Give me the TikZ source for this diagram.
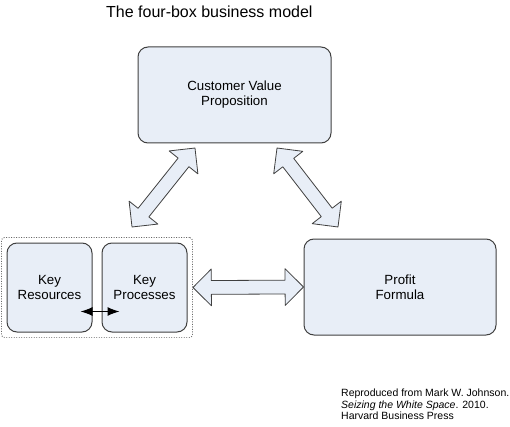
\documentclass[tikz,border=0pt]{standalone}
\usepackage{fontspec}
\setmainfont{Liberation Sans}
\usetikzlibrary{shapes.arrows,arrows.meta,calc,fit}
\definecolor{boxfill}{RGB}{232,238,247}
\definecolor{boxline}{RGB}{64,64,64}
\begin{document}
\begin{tikzpicture}[x=1pt,y=1pt,line join=round,font=\fontsize{13.3}{15}\selectfont,
  box/.style={draw=boxline,fill=boxfill,line width=1pt,rounded corners=10pt,align=center,inner sep=0pt},
  fatarrow/.style={draw=boxline,fill=boxfill,line width=0.8pt,double arrow,double arrow tip angle=90,
    double arrow head extend=11.5pt,inner sep=0pt,inner ysep=6.5pt}]
\useasboundingbox (0,0) rectangle (510,-427);
\node[anchor=base west,inner sep=0pt,font=\fontsize{16}{19}\selectfont] (title) at (106,-17.5) {The four-box business model};
\node[box,minimum width=193pt,minimum height=96pt] (cvp) at (234.5,-95) {Customer Value\\Proposition};
\node[box,minimum width=85pt,minimum height=89pt] (kr) at (49.5,-287.5) {Key\\Resources};
\node[box,minimum width=85pt,minimum height=89pt] (kp) at (144.5,-287.5) {Key\\Processes};
\node[box,minimum width=192pt,minimum height=96pt] (pf) at (400,-287) {Profit\\Formula};
\node[draw=boxline!80,dash pattern=on 0.9pt off 1.6pt,line width=0.9pt,rounded corners=3pt,inner sep=5pt,fit=(kr)(kp)] (grp) {};
% fat arrows between the boxes
\coordinate (la1) at (132,-227);
\coordinate (la2) at (195,-148);
\coordinate (ra1) at (277,-148);
\coordinate (ra2) at (338,-227);
\foreach \a/\b in {la1/la2,ra1/ra2,grp.east/pf.west}
  \path let \p1=($(\b)-(\a)$),\n1={veclen(\x1,\y1)} in (\a) -- (\b) node[fatarrow,midway,sloped,minimum height=\n1] (f-\a) {};
\draw[{Latex[length=12pt,width=9pt]}-{Latex[length=12pt,width=9pt]},line width=1.2pt] ([shift={(-12,21)}]kr.south east) -- ([shift={(18,21)}]kp.south west);
\node[anchor=north west,align=left,inner sep=0pt,font=\fontsize{10.5}{11.5}\selectfont] (cite) at (341,-389)
  {Reproduced from Mark W. Johnson.\\\textit{Seizing the White Space}. 2010.\\Harvard Business Press};
\end{tikzpicture}
\end{document}
